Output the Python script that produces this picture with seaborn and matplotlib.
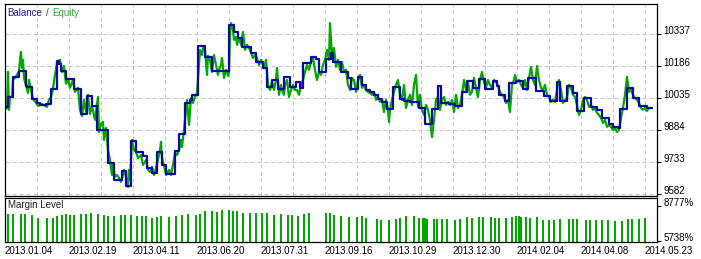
import matplotlib
matplotlib.use("Agg")
import matplotlib.pyplot as plt
import seaborn as sns

sns.set_theme(style="white")
plt.rcParams["font.family"] = ["Liberation Sans", "DejaVu Sans"]

# ---------------- data ----------------
bal_x = [0, 1.5, 4, 7, 10.5, 11, 13.5, 16, 17.5, 20.5, 23, 26, 27, 28, 30.5, 34.5, 38, 41, 43.5, 46,
         51.5, 54.5, 58.5, 60.5, 63, 65.5, 69, 71, 73.5, 76, 78.5, 80.5, 85, 87, 90, 92.5, 93.5, 96.5,
         100, 103.5, 112, 114.5, 116.5, 118.5, 123, 125.5, 129, 131, 133.5, 136.5, 139.5, 142.5, 145.5,
         147.5, 149, 153, 155.5, 157, 160.5, 163, 164, 168, 171.5, 173, 176.5, 178.5, 180.5, 182.5,
         184.5, 186.5, 188.5, 191, 194, 197.5, 199.5, 202.5, 207, 210, 213.5, 216.5, 218, 222, 225,
         228.5, 231, 234, 237, 240, 244, 246, 247, 250, 252, 255.5, 259, 261.5, 265.5, 269.5, 272.5,
         276, 277.5, 281, 284, 286, 289.5, 293, 296, 298.5, 302, 304, 306.5, 307.5, 311, 314, 317,
         321, 323.5]
bal_v = [9993, 10040, 10134, 10163, 10092, 10087, 10031, 10012, 10002, 10007, 10078, 10210, 10196,
         10163, 10125, 10078, 9960, 10045, 9998, 9884, 9729, 9648, 9691, 9620, 9832, 9781, 9762, 9705,
         9681, 9781, 9719, 9677, 9785, 9866, 10012, 10026, 10050, 10281, 10229, 10163, 10380, 10347,
         10319, 10276, 10248, 10205, 10177, 10087, 10120, 10078, 10134, 10087, 10111, 10083, 10201,
         10229, 10219, 10158, 10219, 10248, 10205, 10158, 10130, 10078, 10134, 10097, 10073, 10064,
         10050, 10031, 10017, 9984, 10087, 10031, 10021, 10017, 9988, 9913, 9984, 10092, 10012, 10007,
         9998, 10064, 10116, 10083, 10125, 10078, 10116, 10092, 10050, 10021, 10106, 10116, 10078,
         10130, 10068, 10045, 10021, 10111, 10021, 10092, 10059, 9974, 10035, 9993, 9979, 9941, 9913,
         9899, 9894, 9984, 10083, 10035, 9998, 9988, 9988]

eq_x = [0, 1, 1.5, 2, 2.5, 3.5, 4, 5.5, 7, 7.5, 8, 8.5, 9, 9.5, 10.5, 11.5, 12, 13, 14, 15.5, 16.5,
        18.5, 20, 21, 22, 23, 24, 25, 26, 27.5, 28.5, 29.5, 30.5, 31.5, 32.5, 34, 35, 36.5, 37.5, 38.5,
        39.5, 40.5, 41.5, 42.5, 43.5, 45, 46.5, 47, 48, 49, 49.5, 50.5, 51.5, 52.5, 53.5, 54, 55, 56,
        57, 58, 59, 59.5, 60.5, 61.5, 62, 62.5, 63.5, 64.5, 65.5, 66.5, 68, 69, 70.5, 71.5, 72.5, 73.5,
        74.5, 75.5, 76.5, 77.5, 78, 78.5, 79.5, 80.5, 82, 83, 84, 85, 86, 87, 88, 88.5, 89.5, 90, 91,
        92, 93, 94, 95, 96, 97, 97.5, 98.5, 99, 100, 101, 101.5, 102.5, 103.5, 104.5, 105.5, 106.5,
        107, 108, 108.5, 109.5, 110.5, 111.5, 112, 112.5, 113, 114, 114.5, 115.5, 116, 117, 118, 119,
        120, 121, 122.5, 124, 125, 126, 127, 128, 128.5, 129.5, 130.5, 131.5, 132.5, 133.5, 134.5,
        135.5, 136, 137, 138, 138.5, 139.5, 140, 141, 142, 143, 144, 145, 146, 147, 148, 149, 150, 151,
        152, 153, 154, 155, 156, 157, 158, 159, 160, 161, 162, 162.5, 163, 163.5, 164, 164.5, 165.5,
        166.5, 167.5, 168.5, 169.5, 170.5, 171.5, 172.5, 173.5, 174.5, 175.5, 176.5, 177.5, 178.5,
        179.5, 180.5, 181.5, 182.5, 183.5, 184.5, 185.5, 186.5, 187.5, 188.5, 189.5, 190.5, 191.5, 192,
        192.5, 193.5, 194.5, 195.5, 196.5, 197.5, 198.5, 199.5, 200.5, 201.5, 202.5, 203.5, 204.5,
        205.5, 206.5, 207.5, 208.5, 209.5, 210.5, 211.5, 212.5, 213.5, 214.5, 215.5, 216.5, 217.5,
        218.5, 219.5, 220.5, 221.5, 222.5, 223.5, 224.5, 225.5, 226.5, 227.5, 228.5, 229.5, 230.5,
        231.5, 232.5, 233.5, 234.5, 235.5, 236.5, 237.5, 238.5, 239.5, 240.5, 241.5, 242.5, 243.5,
        244.5, 245.5, 246.5, 247.5, 248.5, 249.5, 250.5, 251.5, 252.5, 253.5, 254.5, 255, 256, 257,
        258, 259, 260, 261, 262, 263, 264, 265, 266, 267, 268, 269, 270, 271, 272, 273, 274, 275, 276,
        277, 278, 279, 280, 281, 282, 283, 284, 285, 286, 287, 288, 289, 290, 291, 292, 293, 294, 295,
        296, 297, 298, 299, 300, 301, 302, 303, 304, 305, 306, 307, 308, 309, 310, 311, 312, 313, 314,
        315, 316, 317, 318, 319, 320, 321, 322, 323.5]
eq_v = [9979, 9988, 10158, 9979, 10040, 10040, 10120, 10135, 10163, 10215, 10253, 10177, 10215, 10130,
        10092, 10059, 10120, 10073, 10031, 10012, 9998, 10007, 9998, 9993, 10026, 10040, 10078, 10144,
        10201, 10215, 10158, 10186, 10102, 10125, 10083, 10120, 10064, 10083, 9979, 9950, 10026, 9969,
        10050, 9960, 9998, 9932, 10040, 9875, 9913, 9922, 9837, 9894, 9790, 9743, 9672, 9719, 9663,
        9672, 9658, 9639, 9672, 9696, 9663, 9615, 9696, 9648, 9837, 9790, 9781, 9752, 9766, 9719, 9743,
        9696, 9686, 9710, 9672, 9705, 9743, 9790, 9828, 9752, 9719, 9672, 9696, 9672, 9719, 9776, 9766,
        9790, 9837, 9804, 9884, 9932, 10026, 9908, 10035, 10012, 10040, 10059, 10196, 10262, 10238,
        10271, 10262, 10144, 10234, 10215, 10158, 10238, 10191, 10144, 10168, 10191, 10224, 10130,
        10168, 10139, 10158, 10333, 10389, 10356, 10309, 10323, 10286, 10319, 10286, 10347, 10262,
        10286, 10262, 10224, 10238, 10224, 10191, 10215, 10205, 10177, 10215, 10097, 10073, 10111,
        10073, 10120, 10177, 10050, 10097, 10073, 10050, 10097, 10120, 10040, 10073, 10097, 10073,
        10073, 10050, 10097, 10120, 10158, 10191, 10168, 10205, 10224, 10168, 10120, 10158, 10144,
        10191, 10215, 10262, 10215, 10389, 10309, 10238, 10262, 10271, 10182, 10215, 10168, 10205,
        10158, 10168, 10097, 10073, 10130, 10120, 10064, 10120, 10144, 10083, 10097, 10073, 10064,
        10059, 10050, 10064, 10026, 10040, 10017, 10026, 9969, 10026, 9979, 9922, 9979, 10026, 10064,
        10097, 10120, 10050, 10026, 10097, 9988, 10026, 10050, 10002, 10097, 10144, 9993, 10050, 9979,
        9955, 10002, 9979, 9932, 9851, 9932, 10026, 10040, 9979, 10026, 10040, 10002, 10017, 10002,
        10026, 9969, 10050, 9988, 10002, 10050, 10120, 10073, 10111, 10050, 10064, 10130, 10083,
        10040, 10120, 10158, 10111, 10083, 10120, 10097, 10083, 10120, 10111, 10092, 10064, 10050,
        10040, 10012, 10026, 9969, 10097, 10120, 10144, 10111, 10120, 10097, 10083, 10120, 10073,
        10130, 10182, 10120, 10097, 10186, 10120, 10083, 10073, 10097, 10050, 10040, 10017, 10026,
        10017, 10073, 10120, 10073, 10012, 10026, 10035, 10097, 10083, 10050, 10040, 10002, 9955, 9979,
        10026, 10040, 10026, 9993, 10002, 9979, 9988, 9965, 9955, 9941, 9917, 9932, 9899, 9908, 9899,
        9884, 9894, 9875, 9884, 9941, 9988, 10050, 10135, 10064, 10073, 10050, 10035, 10026, 10012,
        9988, 9979, 9988, 9974, 9988, 9988]

margin_x = [1.5, 4, 8, 10, 13.5, 16.5, 21, 24, 26, 28.5, 30.5, 32.5, 34.5, 38, 40.5, 43, 46.5, 49.5,
            51.5, 54.5, 58, 60, 63, 66, 68.5, 70.5, 73.5, 76, 78, 82, 85.5, 88.5, 91.5, 95.5, 97.5,
            100, 103.5, 106, 108.5, 112, 114, 116, 119, 122.5, 125.5, 128.5, 131, 134.5, 138, 141.5,
            143.5, 146.5, 149.5, 152, 160.5, 162.5, 164.5, 168, 172, 176, 178.5, 180.5, 186, 188,
            192, 195.5, 197.5, 200.5, 204.5, 207, 209, 209.5, 210, 210.5, 211, 214.5, 216, 218.5,
            221, 225, 227.5, 231, 233.5, 237, 239, 243, 245, 247, 250.5, 253.5, 255.5, 257, 258,
            260.5, 262.5, 266, 269, 272, 274.5, 277.5, 282, 284, 286, 290.5, 292.5, 295.5, 298.5,
            301.5, 305, 308.5, 311.5, 313.5, 317, 320]
margin_v = [8120, 8120, 8120, 8120, 8032, 7796, 7796, 7796, 7945, 8032, 8120, 8032, 8032, 8120, 8120,
            8208, 8120, 8032, 7945, 7945, 8032, 8032, 8032, 7945, 7945, 7945, 7796, 7884, 7945, 7884,
            7945, 8032, 8120, 8032, 8120, 8383, 8383, 8269, 8470, 8470, 8383, 8383, 8208, 8208, 8208,
            8208, 8208, 8032, 8120, 8032, 8032, 7945, 8120, 8208, 8208, 8208, 8032, 7945, 7884, 7884,
            7945, 7796, 7708, 7594, 7594, 7708, 7796, 7945, 7945, 7796, 7796, 7743, 7743, 7708, 7708,
            7708, 7708, 7708, 7708, 7594, 7708, 7857, 7796, 7857, 7857, 7857, 7796, 7743, 7743, 7857,
            7945, 7945, 7857, 7857, 7796, 7857, 7594, 7594, 7594, 7656, 7708, 7708, 7656, 7594, 7594,
            7594, 7594, 7594, 7507, 7507, 7708, 7708, 7708, 7796]

price_ticks = [9582, 9733, 9884, 10035, 10186, 10337]
margin_ticks = [5738, 8777]
margin_labels = ["5738%", "8777%"]
date_labels = ["2013.01.04", "2013.02.19", "2013.04.11", "2013.06.20", "2013.07.31", "2013.09.16",
               "2013.10.29", "2013.12.30", "2014.02.04", "2014.04.08", "2014.05.23"]
date_pos = [0, 32, 64, 96, 128, 160, 192, 224, 256, 288, 320]

# ---------------- style ----------------
BLUE = "#0a0aa0"
GREEN = "#00a800"
GRID = "#c4c4c4"
W, H = 701, 259
FS = 7


def rect(l, t, r, b):
    return [l / W, 1 - b / H, (r - l) / W, (b - t) / H]


fig = plt.figure(figsize=(W / 100, H / 100), dpi=100)
fig.patch.set_facecolor("white")
ax = fig.add_axes(rect(4.5, 4, 656.5, 196))
ax2 = fig.add_axes(rect(4.5, 197.5, 656.5, 242.3))

sns.lineplot(x=eq_x, y=eq_v, ax=ax, color=GREEN, lw=1.6, estimator=None, sort=False)
sns.lineplot(x=bal_x, y=bal_v, ax=ax, color=BLUE, lw=1.6, estimator=None, sort=False,
             drawstyle="steps-post")

sns.barplot(x=margin_x, y=margin_v, ax=ax2, native_scale=True, orient="x", width=1.8,
            color=GREEN, saturation=1, errorbar=None, linewidth=0)

for a in (ax, ax2):
    a.set_xlim(-0.25, 325.75)
    a.set_facecolor("white")
    for s in a.spines.values():
        s.set_color("black")
        s.set_linewidth(0.9)
    a.set_xlabel("")
    a.set_ylabel("")

ax.set_ylim(9572.6, 10478.6)
ax.set_xticks(list(range(16, 321, 16)))
ax.tick_params(axis="x", length=0, labelbottom=False)
ax.yaxis.tick_right()
ax.set_yticks(price_ticks, [str(t) for t in price_ticks])
ax.tick_params(axis="y", direction="out", length=3, width=0.8, pad=2, labelsize=FS,
               colors="black")
for lbl in ax.get_yticklabels():
    lbl.set_va("baseline")
ax.grid(True, color=GRID, lw=0.72, ls=(0, (4, 3)))
ax.set_axisbelow(True)

ax2.set_ylim(5642, 9565)
ax2.yaxis.tick_right()
ax2.set_yticks(margin_ticks, margin_labels)
ax2.tick_params(axis="y", direction="out", length=3, width=0.8, pad=2, labelsize=FS,
                colors="black")
for lbl in ax2.get_yticklabels():
    lbl.set_va("baseline")
ax2.set_xticks(date_pos, date_labels, ha="left")
ax2.tick_params(axis="x", direction="out", length=3, width=0.8, pad=0, labelsize=FS,
                colors="black")
ax2.grid(False)

fig.text(7 / W, 1 - 13 / H, "Balance", color="#2a1a8a", fontsize=FS, va="center", ha="left")
fig.text(46 / W, 1 - 13 / H, "/", color="#404040", fontsize=FS, va="center", ha="left")
fig.text(52 / W, 1 - 13 / H, "Equity", color="#30b030", fontsize=FS, va="center", ha="left")
fig.text(8 / W, 1 - 205.5 / H, "Margin Level", color="#202020", fontsize=FS, va="center",
         ha="left")

fig.savefig("out.png", dpi=100, facecolor="white")
